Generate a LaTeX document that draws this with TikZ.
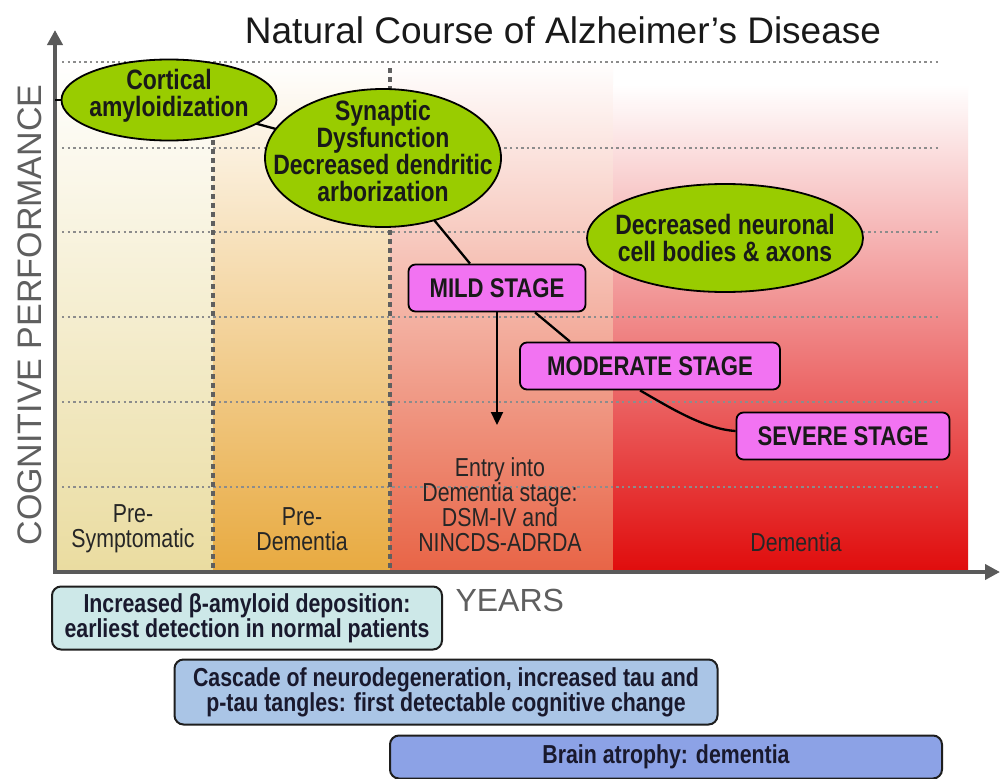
\documentclass[tikz,border=0pt]{standalone}
\usepackage{fontspec}
\setmainfont{Liberation Sans}
\newfontfamily\narrowfont[FakeStretch=0.82]{Liberation Sans}
\usetikzlibrary{arrows.meta,shapes.geometric,calc}
\definecolor{ellgreen}{RGB}{153,204,0}
\definecolor{stagepink}{RGB}{242,115,242}
\definecolor{psc}{RGB}{234,220,160}
\definecolor{pdc}{RGB}{232,170,64}
\definecolor{enc}{RGB}{232,100,70}
\definecolor{dec}{RGB}{224,12,12}
\definecolor{boxa}{RGB}{205,232,232}
\definecolor{boxb}{RGB}{170,197,230}
\definecolor{boxc}{RGB}{140,162,230}
\definecolor{axisgray}{RGB}{90,90,90}
\definecolor{labgray}{RGB}{95,95,95}
\definecolor{navytext}{RGB}{25,25,45}
\definecolor{hdotc}{RGB}{140,140,140}
\definecolor{vdotc}{RGB}{95,95,95}
\pgfdeclarelayer{back}
\pgfdeclarelayer{mid}
\pgfsetlayers{back,mid,main}
\tikzset{
  hdot/.style={draw=hdotc, line width=2.4pt, dash pattern=on 2.4pt off 3.2pt},
  vdot/.style={draw=vdotc, line width=4.5pt, dash pattern=on 4.5pt off 4.5pt},
  axisline/.style={draw=axisgray, line width=4pt, {Triangle[length=15pt,width=15pt]}-{Triangle[length=15pt,width=15pt]}},
  ell/.style={ellipse, draw=black, line width=1.8pt, fill=ellgreen, align=center, text=black!90,
    font=\narrowfont\bfseries\fontsize{28}{27}\selectfont},
  stagebox/.style={rectangle, rounded corners=7pt, draw=black, line width=1.8pt, fill=stagepink, inner sep=0pt,
    minimum height=47pt, text=black!90, font=\narrowfont\bfseries\fontsize{27}{29}\selectfont},
  btmbox/.style={rectangle, rounded corners=9pt, draw={rgb,255:red,30;green,30;blue,30}, line width=2pt, inner sep=0pt,
    align=center, text=navytext, font=\narrowfont\bfseries\fontsize{26}{25}\selectfont},
  curve/.style={draw=black, line width=2.3pt},
  arrowln/.style={draw=black, line width=2.3pt, -{Triangle[length=13pt,width=12pt]}},
  reglabel/.style={align=center, text=black!85, font=\narrowfont\fontsize{26}{25}\selectfont},
}
\begin{document}
\begin{tikzpicture}[x=1pt,y=-1pt]
\begin{pgfonlayer}{back}
\fill[white] (0,0) rectangle (1002,779);
% backgrounds
\shade[top color=white, middle color=psc!45!white, bottom color=psc] (55,60) rectangle (213,572);
\shade[top color=white, middle color=pdc!40!white, bottom color=pdc] (213,60) rectangle (390,572);
\shade[top color=white, middle color=enc!40!white, bottom color=enc] (390,60) rectangle (613,572);
\shade[top color=white, middle color=dec!38!white, bottom color=dec] (613,85) rectangle (968,572);
% grid
\foreach \yy in {62,148,232,317,402,487} { \draw[hdot] (62,\yy) -- (940,\yy); }
\draw[vdot] (213,140) -- (213,570);
\draw[vdot] (390,68) -- (390,570);
% axes
\draw[axisline] (55,30) -- (55,572) -- (1000,572);
\end{pgfonlayer}
\useasboundingbox (0,0) rectangle (1002,779);

% title and axis labels
\node[anchor=base, font=\fontsize{37}{40}\selectfont, text=black!90] (title) at (563,43) {Natural Course of Alzheimer’s Disease};
\node[rotate=90, font=\fontsize{34}{36}\selectfont, text=labgray] (ylab) at (30,315) {COGNITIVE PERFORMANCE};
\node[anchor=west, font=\fontsize{32}{34}\selectfont, text=labgray] (years) at (452,600) {YEARS};

% ellipses
\node[ell, inner xsep=-12pt, inner ysep=-2pt, minimum width=215pt, minimum height=80pt] (cort) at (169,100)
  {Cortical\\amyloidization\rule[-14pt]{0pt}{0pt}};
\node[ell, inner xsep=-32pt, inner ysep=-12pt, minimum width=236pt, minimum height=138pt] (syn) at (383,158)
  {Synaptic\\Dysfunction\\Decreased dendritic\\arborization\rule[-14pt]{0pt}{0pt}};
\node[ell, inner xsep=-16pt, inner ysep=-2pt, minimum width=276pt, minimum height=108pt] (neur) at (725,238)
  {Decreased neuronal\\cell bodies \& axons};

% stage boxes
\node[stagebox, minimum width=177pt] (mild) at (497,288) {MILD STAGE};
\node[stagebox, minimum width=260pt] (mod) at (650,366) {MODERATE STAGE};
\node[stagebox, minimum width=213pt] (sev) at (843,436) {SEVERE STAGE};

% region labels
\node[reglabel] (presym) at (133,529) {Pre-\\Symptomatic};
\node[reglabel] (predem) at (302,529) {Pre-\\Dementia};
\node[reglabel] (entry) at (500,505) {Entry into\\Dementia stage:\\DSM-IV and\\NINCDS-ADRDA};
\node[reglabel] (dem) at (796,542) {Dementia};

% bottom boxes
\node[btmbox, fill=boxa, minimum width=390pt, minimum height=63pt] (b1) at (247,618) {Increased β-amyloid deposition:\\earliest detection in normal patients};
\node[btmbox, fill=boxb, minimum width=543pt, minimum height=65pt] (b2) at (446,692) {Cascade of neurodegeneration, increased tau and\\p-tau tangles: first detectable cognitive change};
\node[btmbox, fill=boxc, minimum width=552pt, minimum height=43pt] (b3) at (666,757) {Brain atrophy: dementia};

% connectors
\coordinate (c0) at (55,100);
\coordinate (arrEnd) at (497,425);
\begin{pgfonlayer}{mid}
\draw[curve] (c0) -- (cort.west);
\draw[curve] (cort.center) -- (syn.center);
\draw[curve] (syn.center) -- ([xshift=-27pt]mild.north);
\draw[curve] ([xshift=38pt]mild.south) -- ([xshift=-80pt]mod.north);
\draw[curve] ([xshift=-10pt]mod.south) .. controls +(28,16) and +(-32,-2) .. ([yshift=5pt]sev.west);
\end{pgfonlayer}
\draw[arrowln] (mild.south) -- (arrEnd);
\end{tikzpicture}
\end{document}
